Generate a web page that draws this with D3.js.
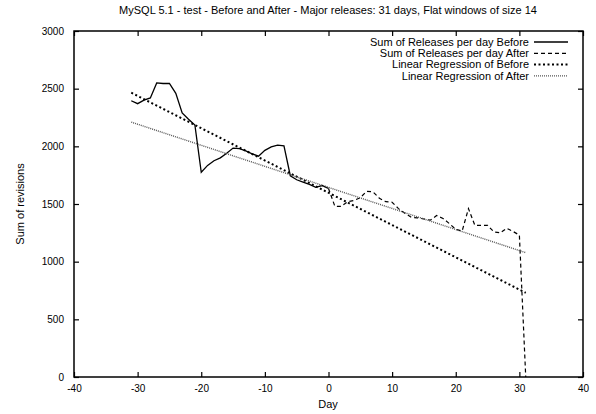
<!DOCTYPE html>
<html>
<head>
<meta charset="utf-8">
<script src="https://cdn.jsdelivr.net/npm/d3@7"></script>
<style>
  body { margin: 0; background: #fff; }
  svg text { font-family: "Liberation Sans", Arial, sans-serif; fill: #000; }
</style>
</head>
<body>
<svg id="drawing_region"></svg>
<script>
// day offsets around the release
const daysBefore = d3.range(-31, 1);
const daysAfter = d3.range(0, 32);

const sumBefore = [2395, 2370, 2400, 2420, 2550, 2545, 2545, 2460, 2290, 2235,
    2185, 1775, 1835, 1875, 1900, 1940, 1985, 1980, 1960, 1935,
    1915, 1965, 1995, 2010, 2005, 1745, 1710, 1690, 1670, 1645,
    1660, 1635];
const sumAfter = [1635, 1480, 1480, 1520, 1530, 1555, 1610, 1605, 1550, 1520,
    1515, 1460, 1420, 1385, 1380, 1370, 1360, 1400, 1375, 1330,
    1280, 1265, 1460, 1315, 1315, 1315, 1258, 1250, 1290, 1262,
    1230, 0];

// regression lines, value at first and last day
const regDays = [-31, 31];
const regBefore = [2465, 730];
const regAfter = [2210, 1078];

const xTicks = [-40, -30, -20, -10, 0, 10, 20, 30, 40];
const yTicks = [0, 500, 1000, 1500, 2000, 2500, 3000];

const legendLabels = ["Sum of Releases per day Before", "Sum of Releases per day After",
    "Linear Regression of Before", "Linear Regression of After"];

const W = 596, H = 414;
const margin = { top: 31, right: 13, bottom: 37, left: 74 };
const iw = W - margin.left - margin.right;
const ih = H - margin.top - margin.bottom;

const svg = d3.select('#drawing_region').attr('width', W).attr('height', H);
const chart = svg.append('g').attr('transform', `translate(${margin.left},${margin.top})`);

const xscale = d3.scaleLinear().domain([-40, 40]).range([0, iw]);
const yscale = d3.scaleLinear().domain([0, 3000]).range([ih, 0]);

// line styles: solid, dashed, thick dots, fine dots
const styles = [
    { w: 1.3, dash: null, col: '#000' },
    { w: 1.2, dash: '4,3', col: '#000' },
    { w: 2, dash: '2,2.5', col: '#000' },
    { w: 1.4, dash: '1,1', col: '#555' }
];

const tick = 5;
const fs = 11;
const tickFs = 10;
const plain = d => String(d);

chart.append('g').attr('transform', `translate(0,${ih})`)
    .call(d3.axisBottom(xscale).tickValues(xTicks).tickSize(-tick).tickPadding(8).tickFormat(plain))
    .call(g => g.select('.domain').remove())
    .call(g => g.selectAll('text').attr('font-size', tickFs));
chart.append('g')
    .call(d3.axisTop(xscale).tickValues(xTicks).tickSize(-tick).tickFormat(''))
    .call(g => g.select('.domain').remove());
chart.append('g')
    .call(d3.axisLeft(yscale).tickValues(yTicks).tickSize(-tick).tickPadding(10).tickFormat(plain))
    .call(g => g.select('.domain').remove())
    .call(g => g.selectAll('text').attr('font-size', tickFs));
chart.append('g').attr('transform', `translate(${iw},0)`)
    .call(d3.axisRight(yscale).tickValues(yTicks).tickSize(-tick).tickFormat(''))
    .call(g => g.select('.domain').remove());
chart.selectAll('.tick line').attr('stroke', '#000').attr('stroke-width', 1.2);

chart.append('rect')
    .attr('width', iw).attr('height', ih)
    .attr('fill', 'none').attr('stroke', '#000').attr('stroke-width', 1.5);

const line = d3.line().x(d => xscale(d[0])).y(d => yscale(d[1]));

const series = [
    d3.zip(daysBefore, sumBefore),
    d3.zip(daysAfter, sumAfter),
    d3.zip(regDays, regBefore),
    d3.zip(regDays, regAfter)
];

chart.selectAll('path.series').data(series)
    .join('path')
    .attr('class', 'series')
    .attr('d', line)
    .attr('fill', 'none')
    .attr('stroke', (d, i) => styles[i].col)
    .attr('stroke-width', (d, i) => styles[i].w)
    .attr('stroke-dasharray', (d, i) => styles[i].dash);

// legend
const legend = svg.append('g');
legendLabels.forEach((lab, i) => {
    const y = 42 + i * 11.3;
    legend.append('text')
        .attr('x', 529).attr('y', y).attr('dy', '0.35em')
        .attr('text-anchor', 'end').attr('font-size', fs)
        .text(lab);
    legend.append('line')
        .attr('x1', 534).attr('x2', 568).attr('y1', y).attr('y2', y)
        .attr('stroke', styles[i].col)
        .attr('stroke-width', styles[i].w)
        .attr('stroke-dasharray', styles[i].dash);
});

svg.append('text')
    .attr('x', 328).attr('y', 14)
    .attr('text-anchor', 'middle').attr('font-size', fs)
    .text('MySQL 5.1 - test - Before and After - Major releases: 31 days, Flat windows of size 14');

svg.append('text')
    .attr('x', 328).attr('y', 408)
    .attr('text-anchor', 'middle').attr('font-size', fs)
    .text('Day');

svg.append('text')
    .attr('transform', `translate(24,${margin.top + ih / 2}) rotate(-90)`)
    .attr('text-anchor', 'middle').attr('font-size', fs)
    .text('Sum of revisions');
</script>
</body>
</html>
